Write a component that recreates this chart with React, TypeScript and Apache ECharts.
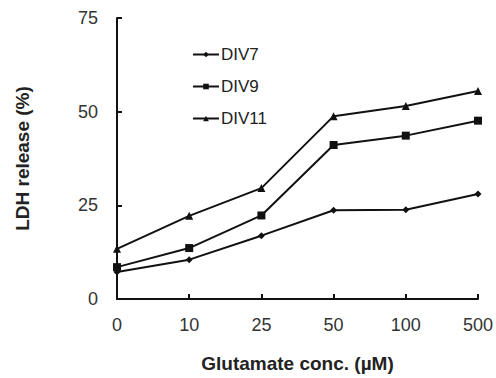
import React, { useEffect, useRef } from "react";
import * as echarts from "echarts";

const categories = ["0", "10", "25", "50", "100", "500"];
const div7 = [7.2, 10.5, 16.9, 23.7, 23.8, 28.0];
const div9 = [8.5, 13.6, 22.3, 41.1, 43.6, 47.6];
const div11 = [13.4, 22.2, 29.6, 48.8, 51.5, 55.5];
const yTicks = [0, 25, 50, 75];

export default function App() {
  const ref = useRef<HTMLDivElement>(null);
  useEffect(() => {
    if (!ref.current) return;
    const chart = echarts.init(ref.current, null, { renderer: "svg" });
    const font = "Liberation Sans, Arial, sans-serif";
    const mk = (name: string, data: number[], symbol: string, size: number) => ({
      name,
      type: "line",
      data,
      symbol,
      symbolSize: size,
      lineStyle: { color: "#111", width: 2 },
      itemStyle: { color: "#111" },
    });
    chart.setOption({
      animation: false,
      backgroundColor: "#fff",
      textStyle: { fontFamily: font },
      grid: { left: 117, right: 15, top: 18, bottom: 75, containLabel: false },
      legend: {
        orient: "vertical",
        left: 187,
        top: 41,
        itemGap: 15,
        itemWidth: 26,
        itemHeight: 7,
        textStyle: { fontSize: 17, color: "#222", fontFamily: font, padding: [0, 0, 0, -3] },
        data: ["DIV7", "DIV9", "DIV11"],
      },
      xAxis: {
        type: "category",
        data: categories,
        boundaryGap: false,
        name: "Glutamate conc. (µM)",
        nameLocation: "middle",
        nameGap: 55,
        nameTextStyle: { fontSize: 19, fontWeight: "bold", color: "#222", fontFamily: font },
        axisLine: { lineStyle: { color: "#111", width: 2 } },
        axisTick: { inside: true, length: 5, lineStyle: { color: "#111", width: 2 } },
        axisLabel: { fontSize: 18, color: "#333", margin: 17, fontFamily: font },
        splitLine: { show: false },
      },
      yAxis: {
        type: "value",
        min: yTicks[0],
        max: yTicks[yTicks.length - 1],
        interval: 25,
        name: "LDH release (%)",
        nameLocation: "middle",
        nameRotate: 90,
        nameGap: 85,
        nameTextStyle: { fontSize: 19, fontWeight: "bold", color: "#222", fontFamily: font },
        axisLine: { show: true, lineStyle: { color: "#111", width: 2 } },
        axisTick: { show: true, inside: true, length: 5, lineStyle: { color: "#111", width: 2 } },
        axisLabel: { fontSize: 18, color: "#333", margin: 19, fontFamily: font },
        splitLine: { show: false },
      },
      series: [
        mk("DIV7", div7, "diamond", 7),
        mk("DIV9", div9, "rect", 8),
        mk("DIV11", div11, "triangle", 8),
      ],
    });
    return () => chart.dispose();
  }, []);
  return <div ref={ref} style={{ width: 496, height: 378, position: "absolute", left: 0, top: 0 }} />;
}
